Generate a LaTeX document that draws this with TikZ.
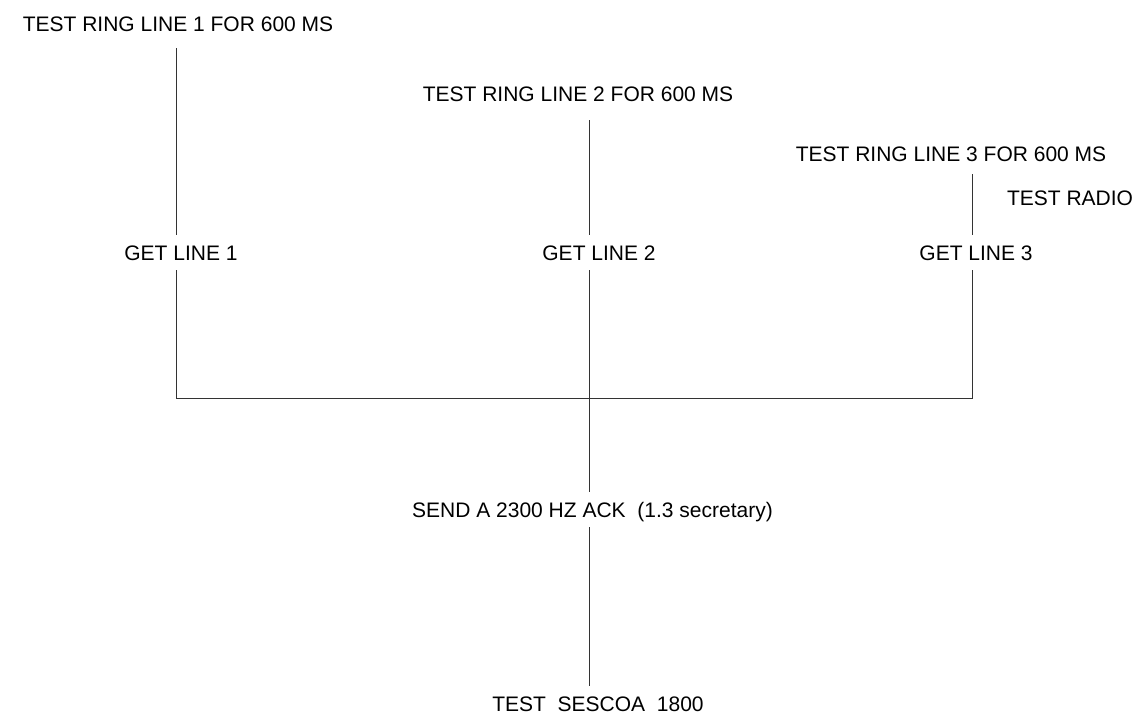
\documentclass[tikz,border=0pt]{standalone}
\usepackage{fontspec}
\setmainfont{Liberation Sans}
\begin{document}
\begin{tikzpicture}[x=1pt,y=-1pt,
  lbl/.style={font=\fontsize{21}{25}\selectfont, inner xsep=0pt, inner ysep=10pt,
    text height=15pt, text depth=0pt, anchor=base},
  wire/.style={line width=1pt, draw=black!80}]
\useasboundingbox[fill=white] (0,0) rectangle (1142,716);
% nodes
\node[lbl] (t1) at (178,31) {TEST RING LINE 1 FOR 600 MS};
\node[lbl] (t2) at (578,101) {TEST RING LINE 2 FOR 600 MS};
\node[lbl] (t3) at (951,161) {TEST RING LINE 3 FOR 600 MS};
\node[lbl] (radio) at (1070,205) {TEST RADIO};
\node[lbl] (g1) at (181,260) {GET LINE 1};
\node[lbl] (g2) at (599,260) {GET LINE 2};
\node[lbl] (g3) at (976,260) {GET LINE 3};
\node[lbl, anchor=base east] (send) at (773,517) {SEND A 2300 HZ ACK\ \ (1.3 secretary)};
\node[lbl, inner ysep=0pt] (ses) at (598,711) {TEST\ \ SESCOA\ \ 1800};
% junctions on the common bus
\coordinate (j1) at (176,398);
\coordinate (j2) at (589,398);
\coordinate (j3) at (972,398);
% connectors
\draw[wire] ([yshift=-7pt]t1.south -| j1) -- (g1.north -| j1);
\draw[wire] ([yshift=-9pt]t2.south -| j2) -- (g2.north -| j2);
\draw[wire] ([yshift=-3pt]t3.south -| j3) -- (g3.north -| j3);
\draw[wire] (g1.south -| j1) -- (j1) -- (j3) -- (g3.south -| j3);
\draw[wire] (g2.south -| j2) -- (send.north -| j2);
\draw[wire] (send.south -| j2) -- ([yshift=10pt]ses.north -| j2);
\end{tikzpicture}
\end{document}
